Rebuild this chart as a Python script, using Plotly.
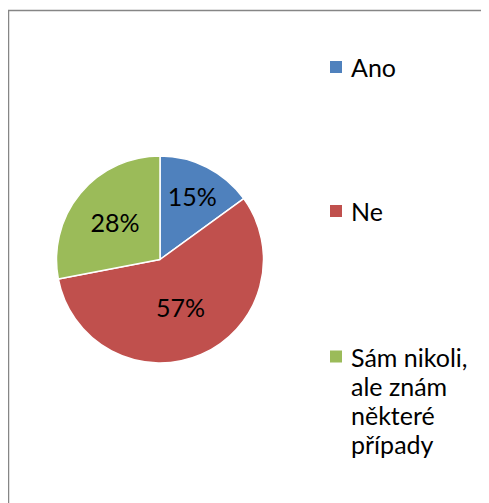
import plotly.graph_objects as go

labels = ["Ano", "Ne", "Sám nikoli, ale znám některé případy"]
legend_lines = [["Ano"], ["Ne"], ["Sám nikoli,", "ale znám", "některé", "případy"]]
values = [15, 57, 28]
colors = ["#4F81BD", "#C0504D", "#9BBB59"]

W, H = 489, 503
OFF = 8  # page body margin
FONT = "Lato"

cx, cy, r = 160 - OFF, 259.5 - OFF, 103.5

def px(x):
    return (x - OFF) / W

def py(y):
    return 1 - (y - OFF) / H

fig = go.Figure(go.Pie(
    labels=labels, values=values, sort=False, direction="clockwise", rotation=0,
    marker=dict(colors=colors, line=dict(color="white", width=1.5)),
    texttemplate="%{percent:.0%}", textposition="inside",
    insidetextorientation="horizontal",
    textfont=dict(family=FONT, size=25, color="black"),
    domain=dict(x=[(cx - r) / W, (cx + r) / W], y=[1 - (cy + r) / H, 1 - (cy - r) / H]),
    showlegend=False, hoverinfo="label+percent",
))

shapes = [dict(type="rect", xref="paper", yref="paper",
               x0=px(8.5), x1=1.05, y0=-0.05, y1=py(10.5),
               line=dict(color="#868686", width=1.5), fillcolor="rgba(0,0,0,0)")]
annotations = []
item_y = [67, 211, 356.5]
line_h = 29.3
for lines, col, y in zip(legend_lines, colors, item_y):
    shapes.append(dict(type="rect", xref="paper", yref="paper",
                       x0=px(330), x1=px(342), y0=py(y + 6), y1=py(y - 6),
                       line=dict(width=0), fillcolor=col))
    for i, t in enumerate(lines):
        annotations.append(dict(xref="paper", yref="paper", x=px(349), y=py(y + i * line_h),
                                xanchor="left", yanchor="middle", align="left", showarrow=False,
                                text=t, font=dict(family=FONT, size=25, color="black")))

fig.update_layout(width=W, height=H, margin=dict(l=0, r=0, t=0, b=0),
                  paper_bgcolor="white", plot_bgcolor="white",
                  uniformtext=dict(minsize=25, mode="show"),
                  shapes=shapes, annotations=annotations)
fig.write_html("out.html")
